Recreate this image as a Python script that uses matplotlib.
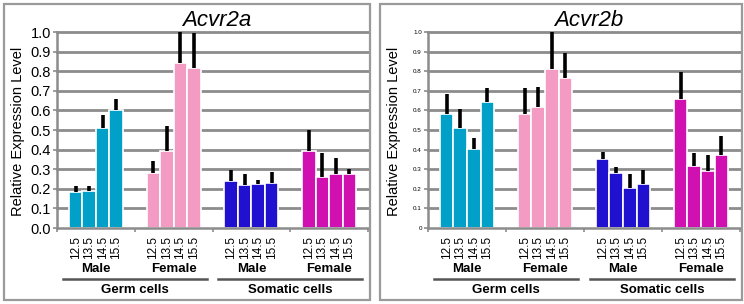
import matplotlib
matplotlib.use("Agg")
import matplotlib.pyplot as plt
import matplotlib.transforms as mtransforms
from matplotlib.patches import Rectangle
import numpy as np

plt.rcParams['font.family'] = ['Liberation Sans', 'DejaVu Sans']

stages = ["12.5", "13.5", "14.5", "15.5"]
sexes = ["Male", "Female", "Male", "Female"]
cell_types = ["Germ cells", "Somatic cells"]
group_colors = ["#00A0C8", "#F39BC2", "#2010D0", "#D010B0"]

# Acvr2a: means and upper error-bar tops, per group (Male germ, Female germ, Male somatic, Female somatic)
acvr2a_mean = [[0.182, 0.187, 0.511, 0.603],
               [0.283, 0.392, 0.843, 0.818],
               [0.240, 0.218, 0.227, 0.232],
               [0.392, 0.262, 0.278, 0.278]]
acvr2a_top = [[0.216, 0.216, 0.579, 0.658],
              [0.344, 0.518, 1.000, 0.995],
              [0.296, 0.276, 0.245, 0.286],
              [0.501, 0.385, 0.358, 0.302]]

acvr2b_mean = [[0.580, 0.508, 0.402, 0.642],
               [0.580, 0.619, 0.812, 0.766],
               [0.351, 0.280, 0.202, 0.224],
               [0.656, 0.314, 0.290, 0.375]]
acvr2b_top = [[0.686, 0.605, 0.461, 0.715],
              [0.715, 0.719, 1.000, 0.893],
              [0.390, 0.312, 0.275, 0.295],
              [0.797, 0.385, 0.371, 0.471]]

yticks = [0.0, 0.1, 0.2, 0.3, 0.4, 0.5, 0.6, 0.7, 0.8, 0.9, 1.0]
ytick_labels_a = ["0.0", "0.1", "0.2", "0.3", "0.4", "0.5", "0.6", "0.7", "0.8", "0.9", "1.0"]
ytick_labels_b = ["0", "0.1", "0.2", "0.3", "0.4", "0.5", "0.6", "0.7", "0.8", "0.9", "1.0"]

W, H = 744, 304
fig = plt.figure(figsize=(W / 100, H / 100), dpi=100)
fig.patch.set_facecolor("white")

def px(x0, y0, x1, y1):
    return [x0 / W, 1 - y1 / H, (x1 - x0) / W, (y1 - y0) / H]

# panel borders
for (bx0, bx1) in [(4, 370), (380, 742)]:
    fig.patches.append(Rectangle((bx0 / W, 1 - 300 / H), (bx1 - bx0) / W, 296 / H,
                                 transform=fig.transFigure, fill=False,
                                 edgecolor="#9a9a9a", linewidth=1.6))

grid_col = "#8c8c8c"
bw = 0.174

def draw(ax_rect, means, tops, title, tick_labels, tick_fs, title_x, ylab_x):
    ax = fig.add_axes(ax_rect)
    ax.set_xlim(0, 4)
    ax.set_ylim(0, 1.0)
    for y in yticks[1:]:
        ax.axhline(y, color=grid_col, lw=2.0, zorder=0, clip_on=False)
    xs_all = []
    for g in range(4):
        xs = g + 0.5 + (np.arange(4) - 1.5) * bw
        xs_all.extend(xs)
        m = np.array(means[g])
        t = np.array(tops[g])
        ax.bar(xs, m, width=bw, color=group_colors[g], edgecolor="white",
               linewidth=1.2, zorder=2)
        ax.errorbar(xs, m, yerr=[np.zeros(4), t - m], fmt="none", ecolor="black",
                    elinewidth=2.6, capsize=0, zorder=3, clip_on=False)
    ax.set_yticks(yticks)
    ax.set_yticklabels(tick_labels, fontsize=tick_fs)
    ax.tick_params(axis="y", length=3, width=1.2, color=grid_col, pad=1.5)
    ax.set_xticks(xs_all)
    ax.set_xticklabels(stages * 4, rotation=90, fontsize=8.5)
    ax.tick_params(axis="x", which="major", length=0, pad=6)
    ax.set_xticks([0, 1, 2, 3, 4], minor=True)
    ax.tick_params(axis="x", which="minor", length=3, width=1.2, color=grid_col)
    for s in ["top", "right"]:
        ax.spines[s].set_visible(False)
    for s in ["left", "bottom"]:
        ax.spines[s].set_color(grid_col)
        ax.spines[s].set_linewidth(1.8)
    ax.set_facecolor("none")

    bt = mtransforms.blended_transform_factory(ax.transData, fig.transFigure)
    for g in range(4):
        ax.text(g + 0.5, 1 - 269 / H, sexes[g], transform=bt, ha="center", va="center",
                fontsize=9.5, fontweight="bold")
    for c in range(2):
        x0 = 2 * c + 0.5 - 2 * bw - 0.08
        x1 = 2 * c + 1.5 + 2 * bw + 0.08
        ax.plot([x0, x1], [1 - 279 / H] * 2, transform=bt, color="#555555", lw=1.8,
                clip_on=False)
        ax.text(2 * c + 1.0, 1 - 290 / H, cell_types[c], transform=bt, ha="center",
                va="center", fontsize=9.5, fontweight="bold")
    fig.text(title_x / W, 1 - 20 / H, title, ha="center", va="center", fontsize=16,
             style="italic")
    fig.text(ylab_x / W, 1 - 131 / H, "Relative Expression Level", rotation=90,
             ha="center", va="center", fontsize=10.5)
    return ax

draw(px(57, 32, 368, 228), acvr2a_mean, acvr2a_top, "Acvr2a", ytick_labels_a, 10.5, 217, 18)
draw(px(428, 32, 740, 228), acvr2b_mean, acvr2b_top, "Acvr2b", ytick_labels_b, 4.5, 589, 394)

fig.savefig("out.png", dpi=100, facecolor="white")
